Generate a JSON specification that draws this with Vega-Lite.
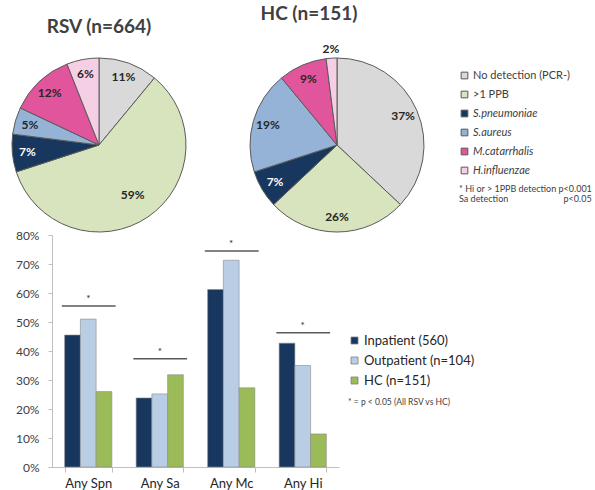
{
  "$schema": "https://vega.github.io/schema/vega-lite/v6.json",
  "padding": {"left": 10, "top": 5, "right": 0, "bottom": 0},
  "background": "white",
  "config": {"view": {"stroke": null}, "font": "Lato"},
  "datasets": {
    "pie": [
      {"group": "RSV", "cat": "No detection (PCR-)", "ord": 1, "pct": 0.11},
      {"group": "RSV", "cat": ">1 PPB", "ord": 2, "pct": 0.59},
      {"group": "RSV", "cat": "S.pneumoniae", "ord": 3, "pct": 0.07},
      {"group": "RSV", "cat": "S.aureus", "ord": 4, "pct": 0.05},
      {"group": "RSV", "cat": "M.catarrhalis", "ord": 5, "pct": 0.12},
      {"group": "RSV", "cat": "H.influenzae", "ord": 6, "pct": 0.06},
      {"group": "HC", "cat": "No detection (PCR-)", "ord": 1, "pct": 0.37},
      {"group": "HC", "cat": ">1 PPB", "ord": 2, "pct": 0.26},
      {"group": "HC", "cat": "S.pneumoniae", "ord": 3, "pct": 0.07},
      {"group": "HC", "cat": "S.aureus", "ord": 4, "pct": 0.19},
      {"group": "HC", "cat": "M.catarrhalis", "ord": 5, "pct": 0.09},
      {"group": "HC", "cat": "H.influenzae", "ord": 6, "pct": 0.02}
    ],
    "bars": [
      {"measure": "Any Spn", "group": "Inpatient (560)", "value": 0.455},
      {"measure": "Any Spn", "group": "Outpatient (n=104)", "value": 0.51},
      {"measure": "Any Spn", "group": "HC (n=151)", "value": 0.26},
      {"measure": "Any Sa", "group": "Inpatient (560)", "value": 0.238},
      {"measure": "Any Sa", "group": "Outpatient (n=104)", "value": 0.252},
      {"measure": "Any Sa", "group": "HC (n=151)", "value": 0.318},
      {"measure": "Any Mc", "group": "Inpatient (560)", "value": 0.612},
      {"measure": "Any Mc", "group": "Outpatient (n=104)", "value": 0.713},
      {"measure": "Any Mc", "group": "HC (n=151)", "value": 0.273},
      {"measure": "Any Hi", "group": "Inpatient (560)", "value": 0.427},
      {"measure": "Any Hi", "group": "Outpatient (n=104)", "value": 0.35},
      {"measure": "Any Hi", "group": "HC (n=151)", "value": 0.114}
    ],
    "sig": [
      {"measure": "Any Spn", "value": 0.555},
      {"measure": "Any Sa", "value": 0.373},
      {"measure": "Any Mc", "value": 0.745},
      {"measure": "Any Hi", "value": 0.463}
    ]
  },
  "vconcat": [
    {
      "hconcat": [
        {
          "width": 94,
          "height": 174,
          "data": {"name": "pie"},
          "transform": [{"filter": "datum.group === 'RSV'"}],
          "title": {"text": "RSV (n=664)", "fontSize": 19, "fontWeight": "bold", "color": "#404040", "offset": 19, "frame": "group"},
          "layer": [
            {
              "mark": {"type": "arc", "outerRadius": 87, "stroke": "#5a5a5a", "strokeWidth": 1},
              "encoding": {
                "theta": {"field": "pct", "type": "quantitative", "stack": true},
                "order": {"field": "ord", "type": "quantitative"},
                "color": {
                  "field": "cat", "type": "nominal",
                  "scale": {
                    "domain": ["No detection (PCR-)", ">1 PPB", "S.pneumoniae", "S.aureus", "M.catarrhalis", "H.influenzae"],
                    "range": ["#d9d9d9", "#d7e4bd", "#17375e", "#95b3d7", "#e0559b", "#f5cfe3"]
                  },
                  "legend": null
                }
              }
            },
            {
              "mark": {
                "type": "text", "fontSize": 12, "fontWeight": "bold",
                "radius": {"expr": "datum.pct > 0.5 ? 60 : (datum.pct < 0.03 ? 96 : 72)"},
                "fill": {"expr": "datum.cat === 'S.pneumoniae' ? '#ffffff' : '#262626'"}
              },
              "encoding": {
                "theta": {"field": "pct", "type": "quantitative", "stack": true},
                "order": {"field": "ord", "type": "quantitative"},
                "text": {"field": "pct", "type": "quantitative", "format": ".0%"}
              }
            }
          ]
        },
        {
          "width": 94,
          "height": 174,
          "data": {"name": "pie"},
          "transform": [{"filter": "datum.group === 'HC'"}],
          "title": {"text": "HC (n=151)", "fontSize": 19, "fontWeight": "bold", "color": "#404040", "offset": 19, "frame": "group", "dx": -28},
          "layer": [
            {
              "mark": {"type": "arc", "outerRadius": 87, "stroke": "#5a5a5a", "strokeWidth": 1},
              "encoding": {
                "theta": {"field": "pct", "type": "quantitative", "stack": true},
                "order": {"field": "ord", "type": "quantitative"},
                "color": {
                  "field": "cat", "type": "nominal",
                  "scale": {
                    "domain": ["No detection (PCR-)", ">1 PPB", "S.pneumoniae", "S.aureus", "M.catarrhalis", "H.influenzae"],
                    "range": ["#d9d9d9", "#d7e4bd", "#17375e", "#95b3d7", "#e0559b", "#f5cfe3"]
                  },
                  "legend": {
                    "orient": "none", "legendX": 169, "legendY": 12, "padding": 0,
                    "title": ["* Hi or > 1PPB detection  p<0.001", "\u00a0\u00a0Sa detection\u00a0\u00a0\u00a0\u00a0\u00a0\u00a0\u00a0\u00a0\u00a0\u00a0\u00a0\u00a0\u00a0\u00a0\u00a0\u00a0\u00a0\u00a0\u00a0\u00a0\u00a0\u00a0\u00a0\u00a0p<0.05"],
                    "titleOrient": "bottom", "titleAnchor": "start", "titleFontSize": 9, "titleFontWeight": "normal",
                    "titleColor": "#404040", "titlePadding": 9, "titleLineHeight": 10, "titleLimit": 300,
                    "symbolType": "square", "symbolSize": 45, "symbolStrokeColor": "#595959", "symbolStrokeWidth": 1,
                    "labelFontSize": 11, "labelColor": "#404040", "labelOffset": 3, "rowPadding": 7,
                    "encode": {"labels": {"update": {"fontStyle": {"signal": "indexof(['No detection (PCR-)', '>1 PPB'], datum.label) >= 0 ? 'normal' : 'italic'"}}}}
                  }
                }
              }
            },
            {
              "mark": {
                "type": "text", "fontSize": 12, "fontWeight": "bold",
                "radius": {"expr": "datum.pct > 0.5 ? 60 : (datum.pct < 0.03 ? 96 : 72)"},
                "fill": {"expr": "datum.cat === 'S.pneumoniae' ? '#ffffff' : '#262626'"}
              },
              "encoding": {
                "theta": {"field": "pct", "type": "quantitative", "stack": true},
                "order": {"field": "ord", "type": "quantitative"},
                "text": {"field": "pct", "type": "quantitative", "format": ".0%"}
              }
            }
          ]
        }
      ],
      "spacing": 60,
      "resolve": {"scale": {"color": "independent"}, "legend": {"color": "independent"}}
    },
    {
      "width": 287,
      "height": 232,
      "encoding": {
        "x": {
          "field": "measure", "type": "nominal", "sort": ["Any Spn", "Any Sa", "Any Mc", "Any Hi"],
          "scale": {"paddingInner": 0.34, "paddingOuter": 0.177},
          "axis": {"title": null, "labelAngle": 0, "labelFontSize": 13, "labelColor": "#262626", "labelPadding": 5,
                   "tickBand": "extent", "tickSize": 5, "tickColor": "#bfbfbf", "domainColor": "#bfbfbf"}
        },
        "y": {
          "field": "value", "type": "quantitative", "scale": {"domain": [0, 0.8]},
          "axis": {"title": null, "format": ".0%", "values": [0, 0.1, 0.2, 0.3, 0.4, 0.5, 0.6, 0.7, 0.8], "grid": false, "labelOverlap": false,
                   "labelFontSize": 12, "labelColor": "#404040", "labelPadding": 9, "tickSize": 4, "tickColor": "#bfbfbf", "domainColor": "#bfbfbf"}
        }
      },
      "layer": [
        {
          "data": {"name": "bars"},
          "mark": {"type": "bar", "stroke": "#8a8a8a", "strokeWidth": 0.6},
          "encoding": {
            "xOffset": {"field": "group", "type": "nominal", "sort": ["Inpatient (560)", "Outpatient (n=104)", "HC (n=151)"], "scale": {"paddingInner": 0, "paddingOuter": 0}},
            "color": {
              "field": "group", "type": "nominal",
              "scale": {"domain": ["Inpatient (560)", "Outpatient (n=104)", "HC (n=151)"], "range": ["#17375e", "#b9cde5", "#9bbb59"]},
              "legend": {
                "orient": "none", "legendX": 296, "legendY": 99, "padding": 0,
                "title": "\u00a0\u00a0* = p < 0.05 (All RSV vs HC)", "titleOrient": "bottom", "titleAnchor": "start",
                "titleFontSize": 8.5, "titleFontWeight": "normal", "titleColor": "#404040", "titlePadding": 10,
                "symbolType": "square", "symbolSize": 49, "symbolStrokeColor": "#7f7f7f", "symbolStrokeWidth": 0.8,
                "labelFontSize": 13, "labelColor": "#262626", "labelOffset": 3, "rowPadding": 6
              }
            }
          }
        },
        {
          "data": {"name": "sig"},
          "mark": {"type": "rule", "color": "#595959", "strokeWidth": 1.5},
          "encoding": {
            "x": {"field": "measure", "type": "nominal", "sort": ["Any Spn", "Any Sa", "Any Mc", "Any Hi"], "bandPosition": -0.06},
            "x2": {"field": "measure", "bandPosition": 1.08}
          }
        },
        {
          "data": {"name": "sig"},
          "mark": {"type": "text", "text": "*", "fontSize": 10, "dy": -7, "color": "#262626"},
          "encoding": {
            "x": {"field": "measure", "type": "nominal", "sort": ["Any Spn", "Any Sa", "Any Mc", "Any Hi"], "bandPosition": 0.5}
          }
        }
      ]
    }
  ],
  "spacing": -5,
  "resolve": {"scale": {"color": "independent"}, "legend": {"color": "independent"}}
}
